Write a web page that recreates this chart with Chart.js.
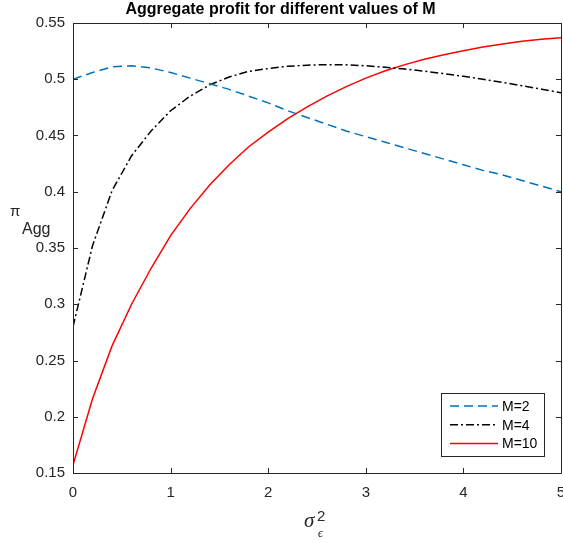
<!DOCTYPE html>
<html>
<head>
<meta charset="utf-8">
<script src="https://cdn.jsdelivr.net/npm/chart.js@4"></script>
<style>
  html, body { margin: 0; padding: 0; background: #fff; }
  #wrap { width: 563px; height: 543px; }
</style>
</head>
<body>
<div id="wrap"><canvas id="profitChart" width="563" height="543"></canvas></div>
<script>
let sigma2 = [0, 0.2, 0.4, 0.6, 0.8, 1.0, 1.2, 1.4, 1.6, 1.8, 2.0, 2.2, 2.4, 2.6, 2.8,
              3.0, 3.2, 3.4, 3.6, 3.8, 4.0, 4.2, 4.4, 4.6, 4.8, 5.0];
let m2 = [0.500, 0.506, 0.511, 0.512, 0.510, 0.506, 0.501, 0.496, 0.491, 0.485, 0.479, 0.472, 0.466,
          0.460, 0.454, 0.449, 0.444, 0.439, 0.434, 0.429, 0.424, 0.419, 0.415, 0.410, 0.405, 0.400];
let m4 = [0.280, 0.352, 0.401, 0.432, 0.454, 0.472, 0.485, 0.495, 0.502, 0.507, 0.5095, 0.5115, 0.5125,
          0.513, 0.5128, 0.512, 0.5107, 0.5091, 0.5072, 0.505, 0.5026, 0.500, 0.4972, 0.4942, 0.4912, 0.488];
let m10 = [0.157, 0.216, 0.263, 0.300, 0.332, 0.361, 0.385, 0.406, 0.424, 0.440, 0.453, 0.465, 0.4755,
           0.485, 0.4935, 0.501, 0.5075, 0.513, 0.5177, 0.5218, 0.5254, 0.5286, 0.5314, 0.5337, 0.5356, 0.537];
let seriesNames = ["M=2", "M=4", "M=10"];
let xTicks = [0, 1, 2, 3, 4, 5];
let yTicks = [0.15, 0.2, 0.25, 0.3, 0.35, 0.4, 0.45, 0.5, 0.55];

const axisColor = "#262626";
const font = "'Liberation Sans', Arial, Helvetica, sans-serif";

function pts(ys) {
    return sigma2.map((x, i) => ({ x: x, y: ys[i] }));
}

// box, inward ticks, legend and axis labels drawn like MATLAB
const matlabAxes = {
    id: "matlabAxes",
    afterDatasetsDraw(chart) {
        const c = chart.ctx;
        const a = chart.chartArea;
        const xs = chart.scales.x, ys = chart.scales.y;
        c.save();
        c.strokeStyle = axisColor;
        c.lineWidth = 1;
        c.beginPath();
        c.rect(Math.round(a.left) + 0.5, Math.round(a.top) + 0.5,
               Math.round(a.right - a.left), Math.round(a.bottom - a.top));
        const tl = 5;
        xTicks.forEach(v => {
            const p = Math.round(xs.getPixelForValue(v)) + 0.5;
            c.moveTo(p, a.bottom); c.lineTo(p, a.bottom - tl);
            c.moveTo(p, a.top); c.lineTo(p, a.top + tl);
        });
        yTicks.forEach(v => {
            const p = Math.round(ys.getPixelForValue(v)) + 0.5;
            c.moveTo(a.left, p); c.lineTo(a.left + tl, p);
            c.moveTo(a.right, p); c.lineTo(a.right - tl, p);
        });
        c.stroke();

        // legend
        const lx = 441, ly = 393, lw = 103, lh = 63;
        c.fillStyle = "#fff";
        c.fillRect(lx, ly, lw, lh);
        c.strokeRect(lx + 0.5, ly + 0.5, lw, lh);
        chart.data.datasets.forEach((ds, i) => {
            const y = ly + 13 + i * 18.7;
            c.strokeStyle = ds.borderColor;
            c.lineWidth = ds.borderWidth;
            c.setLineDash(ds.borderDash || []);
            c.beginPath();
            c.moveTo(450, y); c.lineTo(498, y);
            c.stroke();
            c.setLineDash([]);
            c.fillStyle = "#000";
            c.font = "14px " + font;
            c.textBaseline = "middle";
            c.textAlign = "left";
            c.fillText(ds.label, 502, y + 1);
        });

        // axis labels
        c.fillStyle = axisColor;
        c.textBaseline = "alphabetic";
        c.font = "italic 21px 'Liberation Serif', serif";
        c.fillText("σ", 304, 527);
        c.font = "15px " + font;
        c.fillText("2", 317, 521);
        c.font = "italic 12px 'Liberation Serif', serif";
        c.fillText("ϵ", 318, 537);

        c.font = "15px " + font;
        c.fillText("π", 10, 216);
        c.font = "16px " + font;
        c.fillText("Agg", 22, 234);
        c.restore();
    }
};

let ctx = document.getElementById("profitChart").getContext("2d");
let profitChart = new Chart(ctx, {
    type: "line",
    data: {
        datasets: [
            { label: seriesNames[0], data: pts(m2), borderColor: "#0072BD", borderWidth: 1.5, borderDash: [9, 5] },
            { label: seriesNames[1], data: pts(m4), borderColor: "#000000", borderWidth: 1.5, borderDash: [8, 3, 2, 3] },
            { label: seriesNames[2], data: pts(m10), borderColor: "#FF0000", borderWidth: 1.5 }
        ]
    },
    options: {
        responsive: false,
        animation: false,
        elements: { point: { radius: 0 }, line: { tension: 0, fill: false } },
        layout: { padding: { left: 0, right: 2, top: 0, bottom: 0 } },
        plugins: {
            legend: { display: false },
            tooltip: { enabled: false },
            title: {
                display: true,
                text: "Aggregate profit for different values of M",
                color: "#000",
                font: { family: font, size: 16, weight: "bold", lineHeight: 1 },
                padding: { top: 2, bottom: 5 }
            }
        },
        scales: {
            x: {
                type: "linear", min: 0, max: 5,
                grid: { display: false, drawTicks: false },
                border: { display: false },
                afterBuildTicks: s => { s.ticks = xTicks.map(v => ({ value: v })); },
                afterFit: s => { s.height = 70; s.paddingLeft = 0; s.paddingRight = 0; },
                ticks: { color: axisColor, font: { family: font, size: 15 }, padding: 11, maxRotation: 0,
                         callback: v => String(v) }
            },
            y: {
                type: "linear", min: 0.15, max: 0.55,
                grid: { display: false, drawTicks: false },
                border: { display: false },
                afterBuildTicks: s => { s.ticks = yTicks.map(v => ({ value: v })); },
                afterFit: s => { s.width = 73; s.paddingTop = 0; s.paddingBottom = 0; },
                ticks: { color: axisColor, font: { family: font, size: 15 }, padding: 8,
                         callback: v => String(+v.toFixed(2)) }
            }
        }
    },
    plugins: [matlabAxes]
});
</script>
</body>
</html>
